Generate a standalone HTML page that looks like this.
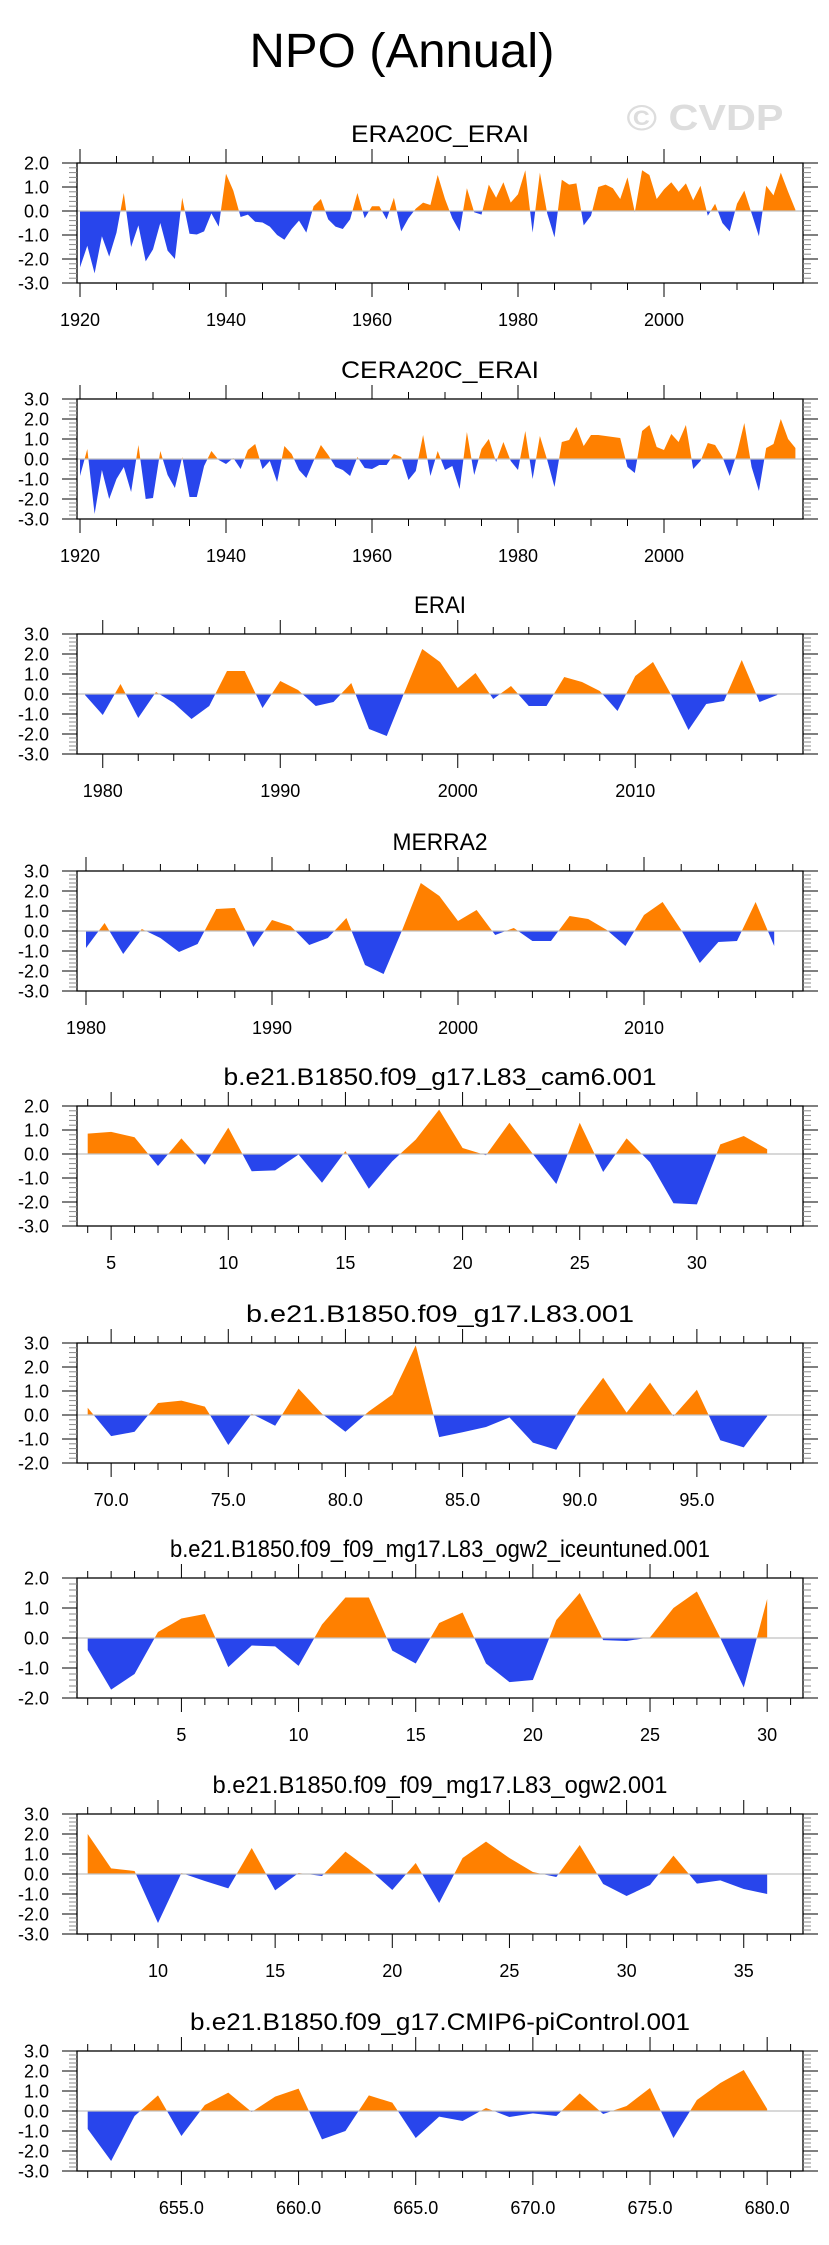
<!DOCTYPE html>
<html><head><meta charset="utf-8"><style>
html,body{margin:0;padding:0;background:#fff}
svg{display:block;font-family:"Liberation Sans",Arial,sans-serif}
</style></head><body>
<svg id="chart" width="829" height="2245" viewBox="0 0 829 2245" xmlns="http://www.w3.org/2000/svg">
<text x="402" y="67" font-size="48" text-anchor="middle" textLength="305" lengthAdjust="spacingAndGlyphs">NPO (Annual)</text>
<text x="705" y="130" font-size="36" font-weight="bold" fill="#dddddd" text-anchor="middle" textLength="157" lengthAdjust="spacingAndGlyphs">© CVDP</text>
</svg>
<script>
const era20cValues=[-2.35,-1.45,-2.6,-1.05,-1.9,-0.9,0.75,-1.5,-0.6,-2.1,-1.6,-0.5,-1.65,-2.0,0.55,-0.95,-0.98,-0.85,-0.1,-0.65,1.55,0.85,-0.25,-0.15,-0.45,-0.48,-0.65,-1.0,-1.2,-0.75,-0.4,-0.9,0.2,0.5,-0.35,-0.65,-0.75,-0.35,0.75,-0.3,0.2,0.2,-0.35,0.55,-0.85,-0.3,0.1,0.35,0.25,1.5,0.5,-0.3,-0.85,0.95,-0.05,-0.15,1.1,0.55,1.2,0.35,0.7,1.7,-0.9,1.6,-0.1,-1.1,1.3,1.1,1.15,-0.6,-0.2,1.0,1.1,0.95,0.5,1.4,-0.05,1.7,1.5,0.5,0.9,1.2,0.8,1.15,0.45,1.05,-0.2,0.3,-0.5,-0.85,0.3,0.85,-0.1,-1.05,1.05,0.65,1.6,0.8,0.05];
const cera20cValues=[-0.85,0.5,-2.75,-0.55,-2.0,-1.0,-0.4,-1.65,0.7,-2.0,-1.95,0.4,-0.8,-1.45,0.1,-1.9,-1.9,-0.35,0.4,-0.05,-0.25,0.05,-0.5,0.45,0.75,-0.5,-0.1,-1.15,0.65,0.25,-0.55,-0.95,-0.1,0.7,0.2,-0.4,-0.55,-0.85,0.1,-0.45,-0.5,-0.3,-0.3,0.25,0.1,-1.05,-0.6,1.2,-0.85,0.4,-0.55,-0.35,-1.5,1.35,-0.8,0.5,1.0,-0.15,0.85,-0.1,-0.55,1.4,-1.0,1.15,-0.05,-1.4,0.85,0.95,1.6,0.65,1.2,1.2,1.15,1.1,1.05,-0.4,-0.7,1.4,1.7,0.6,0.45,1.25,0.85,1.7,-0.5,-0.1,0.8,0.7,0.1,-0.85,0.3,1.8,-0.4,-1.6,0.55,0.75,2.0,1.0,0.55];
const eraiValues=[-0.05,-1.05,0.5,-1.2,0.1,-0.45,-1.25,-0.6,1.15,1.15,-0.7,0.65,0.2,-0.6,-0.4,0.55,-1.75,-2.1,0.1,2.25,1.6,0.3,1.05,-0.25,0.4,-0.6,-0.6,0.85,0.6,0.15,-0.85,0.9,1.6,0.0,-1.8,-0.5,-0.35,1.7,-0.4,-0.05];
const merra2Values=[-0.85,0.4,-1.15,0.1,-0.35,-1.05,-0.65,1.1,1.15,-0.8,0.55,0.25,-0.7,-0.35,0.65,-1.7,-2.15,0.05,2.4,1.75,0.5,1.05,-0.2,0.15,-0.5,-0.5,0.75,0.6,0.05,-0.75,0.8,1.45,0.05,-1.6,-0.55,-0.5,1.45,-0.75];
const cam6Values=[0.85,0.92,0.7,-0.5,0.65,-0.45,1.1,-0.72,-0.68,-0.02,-1.2,0.12,-1.45,-0.3,0.6,1.85,0.25,-0.05,1.3,0.0,-1.25,1.3,-0.75,0.65,-0.35,-2.05,-2.1,0.4,0.75,0.2];
const l83Values=[0.3,-0.88,-0.7,0.5,0.6,0.35,-1.25,0.05,-0.45,1.1,0.05,-0.7,0.15,0.85,2.9,-0.92,-0.72,-0.5,-0.1,-1.15,-1.45,0.25,1.55,0.1,1.35,-0.05,1.05,-1.05,-1.35,-0.05];
const iceValues=[-0.4,-1.72,-1.2,0.2,0.65,0.8,-0.97,-0.25,-0.28,-0.93,0.45,1.35,1.35,-0.42,-0.85,0.5,0.85,-0.85,-1.47,-1.4,0.6,1.5,-0.07,-0.1,0.02,1.0,1.55,0.0,-1.65,1.3];
const ogw2Values=[2.0,0.28,0.15,-2.45,0.05,-0.35,-0.72,1.3,-0.82,0.05,-0.1,1.12,0.25,-0.8,0.55,-1.45,0.8,1.62,0.8,0.1,-0.15,1.45,-0.5,-1.1,-0.55,0.92,-0.48,-0.32,-0.75,-1.0];
const piValues=[-0.9,-2.5,-0.25,0.78,-1.25,0.3,0.92,-0.05,0.72,1.12,-1.42,-1.0,0.78,0.42,-1.35,-0.28,-0.5,0.15,-0.3,-0.12,-0.25,0.88,-0.15,0.25,1.15,-1.35,0.55,1.4,2.05,0.1];
const panelTitles=["ERA20C_ERAI","CERA20C_ERAI","ERAI","MERRA2","b.e21.B1850.f09_g17.L83_cam6.001","b.e21.B1850.f09_g17.L83.001","b.e21.B1850.f09_f09_mg17.L83_ogw2_iceuntuned.001","b.e21.B1850.f09_f09_mg17.L83_ogw2.001","b.e21.B1850.f09_g17.CMIP6-piControl.001"];
const panelSeries=[era20cValues,cera20cValues,eraiValues,merra2Values,cam6Values,l83Values,iceValues,ogw2Values,piValues];
const startValues=[1920,1920,1979,1980,4,69,1,7,651];
const yMins=[-3,-3,-3,-3,-3,-2,-2,-3,-3];
const yMaxs=[2,3,3,3,2,3,2,3,3];
const majorSteps=[20,20,10,10,5,5,5,5,5];
const minorSteps=[5,5,2,2,1,1,1,1,1];
const labelDecimals=[0,0,0,0,0,1,0,0,1];

// layout (not data)
const L=77,R=803;
const tops=[163,399,634,871,1106,1343,1578,1814,2051];
const H=120;
const firstPx=[80,80,85,86,87.7,87.7,87.7,87.7,87.7];
const pxPer=[7.3,7.3,17.75,18.6,23.43,23.43,23.43,23.43,23.43];
const titleLens=[178,198,52,95,433,388,540,455,500];
const NS="http://www.w3.org/2000/svg";
const svg=document.getElementById('chart');
function mk(tag,attrs,parent){const e=document.createElementNS(NS,tag);for(const k in attrs)e.setAttribute(k,attrs[k]);(parent||svg).appendChild(e);return e;}

panelSeries.forEach((vals,p)=>{
  const top=tops[p],bot=top+H,ymin=yMins[p],ymax=yMaxs[p];
  const start=startValues[p];
  const xs=v=>firstPx[p]+(v-start)*pxPer[p];
  const ys=v=>bot-(v-ymin)/(ymax-ymin)*H;
  const g=mk('g',{});
  
  
  const t=mk('text',{x:(L+R)/2,y:top-21,'font-size':24,'text-anchor':'middle',textLength:titleLens[p],lengthAdjust:'spacingAndGlyphs'},g);
  t.textContent=panelTitles[p];
  
  
  const y0=ys(0);
  const cid='c'+p;
  const defs=mk('defs',{},g);
  const cpA=mk('clipPath',{id:cid+'a'},defs);mk('rect',{x:L,y:top,width:R-L,height:y0-top},cpA);
  const cpB=mk('clipPath',{id:cid+'b'},defs);mk('rect',{x:L,y:y0,width:R-L,height:bot-y0},cpB);
  let pts=xs(start)+','+y0+' ';
  vals.forEach((v,i)=>{pts+=xs(start+i)+','+ys(v)+' ';});
  pts+=xs(start+vals.length-1)+','+y0;
  const pa=mk('polygon',{points:pts,fill:'#ff8000','clip-path':'url(#'+cid+'a)'},g);
  
  
  const pb=mk('polygon',{points:pts,fill:'#2845ec','clip-path':'url(#'+cid+'b)'},g);
  
  
  const zl=mk('line',{x1:L,x2:R,y1:y0,y2:y0,stroke:'#c0c0c0','stroke-width':1.3},g);
  
  
  const fr=mk('rect',{x:L,y:top,width:R-L,height:H,fill:'none',stroke:'#000','stroke-width':1.3},g);
  
  
  for(let k=0;k<=Math.round((ymax-ymin)*5);k++){
    const v=ymin+k*0.2,y=ys(v),maj=k%5===0,len=maj?15:8;
    mk('line',{x1:L-len,x2:L,y1:y,y2:y,stroke:maj?'#000':'#888','stroke-width':1},g);
    mk('line',{x1:R,x2:R+len,y1:y,y2:y,stroke:maj?'#000':'#888','stroke-width':1},g);
    if(maj){const lb=mk('text',{x:49,y:y+6.5,'font-size':18,'text-anchor':'end'},g);lb.textContent=v.toFixed(1);
      
      }
  }
  const ms=minorSteps[p];
  const vL=start+(L-firstPx[p])/pxPer[p],vR=start+(R-firstPx[p])/pxPer[p];
  for(let v=Math.ceil(vL/ms)*ms;v<=vR;v+=ms){
    const x=xs(v),maj=v%majorSteps[p]===0,len=maj?14:7;
    mk('line',{x1:x,x2:x,y1:top-len,y2:top,stroke:'#000','stroke-width':1},g);
    mk('line',{x1:x,x2:x,y1:bot,y2:bot+len,stroke:'#000','stroke-width':1},g);
    if(maj){const lb=mk('text',{x:x,y:bot+43,'font-size':18,'text-anchor':'middle'},g);lb.textContent=v.toFixed(labelDecimals[p]);
      
      }
  }
});
</script>
</body></html>
